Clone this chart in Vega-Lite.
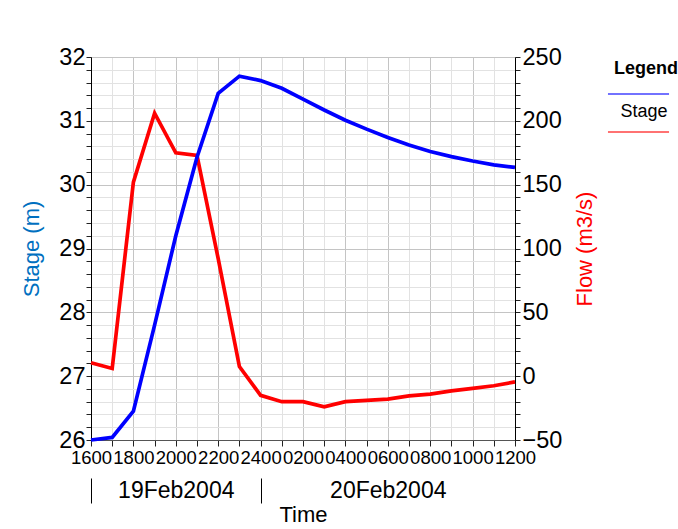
{
  "$schema": "https://vega.github.io/schema/vega-lite/v6.json",
  "width": 424,
  "height": 383,
  "autosize": {"type": "none"},
  "padding": {"left": 91, "top": 57, "right": 163, "bottom": 89},
  "background": "white",
  "config": {
    "font": "Liberation Sans",
    "view": {"stroke": "#555", "strokeWidth": 1},
    "axis": {
      "labelFont": "Liberation Sans",
      "titleFont": "Liberation Sans",
      "labelColor": "black",
      "titleColor": "black",
      "titleFontWeight": "normal",
      "tickColor": "#222",
      "domainColor": "#222"
    }
  },
  "data": {
    "values": [
      {"h": 0, "stage": 26.0, "flow": 10.5},
      {"h": 1, "stage": 26.04, "flow": 6},
      {"h": 2, "stage": 26.45, "flow": 152},
      {"h": 3, "stage": 27.8, "flow": 206},
      {"h": 4, "stage": 29.2, "flow": 175},
      {"h": 5, "stage": 30.43, "flow": 173},
      {"h": 6, "stage": 31.43, "flow": 92},
      {"h": 7, "stage": 31.7, "flow": 7.5},
      {"h": 8, "stage": 31.63, "flow": -15},
      {"h": 9, "stage": 31.51, "flow": -20},
      {"h": 10, "stage": 31.34, "flow": -20},
      {"h": 11, "stage": 31.17, "flow": -24},
      {"h": 12, "stage": 31.01, "flow": -20},
      {"h": 13, "stage": 30.87, "flow": -19},
      {"h": 14, "stage": 30.74, "flow": -18},
      {"h": 15, "stage": 30.62, "flow": -15.5},
      {"h": 16, "stage": 30.52, "flow": -14},
      {"h": 17, "stage": 30.44, "flow": -11.5},
      {"h": 18, "stage": 30.37, "flow": -9.5},
      {"h": 19, "stage": 30.31, "flow": -7.5},
      {"h": 20, "stage": 30.27, "flow": -4.5}
    ]
  },
  "layer": [
    {
      "mark": {"type": "line", "strokeWidth": 3.7},
      "encoding": {
        "x": {
          "field": "h",
          "type": "quantitative",
          "scale": {"domain": [0, 20], "nice": false, "zero": false},
          "axis": {
            "orient": "bottom",
            "offset": 38,
            "domain": false,
            "grid": false,
            "values": [0, 4, 8, 14],
            "tickSize": 25,
            "tickColor": "black",
            "tickOpacity": {"condition": {"test": "datum.value == 0 || datum.value == 8", "value": 1}, "value": 0},
            "labelExpr": "datum.value == 4 ? '19Feb2004' : datum.value == 14 ? '20Feb2004' : ''",
            "labelFontSize": 23,
            "labelBaseline": "middle",
            "labelPadding": -13,
            "labelOverlap": false,
            "labelFlush": false,
            "labelBound": false,
            "title": "Time",
            "titleFontSize": 22,
            "titlePadding": 1
          }
        },
        "y": {
          "field": "flow",
          "type": "quantitative",
          "scale": {"domain": [-50, 250], "nice": false, "zero": false},
          "axis": {
            "orient": "right",
            "grid": false,
            "values": [-50, -40, -30, -20, -10, 0, 10, 20, 30, 40, 50, 60, 70, 80, 90, 100, 110, 120, 130, 140, 150, 160, 170, 180, 190, 200, 210, 220, 230, 240, 250],
            "labelExpr": "datum.value % 50 == 0 ? datum.label : ''",
            "labelOverlap": false,
            "labelFontSize": 23.5,
            "labelPadding": 2,
            "tickSize": 5,
            "domainColor": "black",
            "title": "Flow (m3/s)",
            "titleColor": "#ff0000",
            "titleFontSize": 22,
            "titleAngle": 270,
            "titlePadding": 35
          }
        },
        "color": {
          "datum": "Flow",
          "type": "nominal",
          "scale": {"domain": ["Stage", "Flow"], "range": ["#0000ff", "#ff0000"]},
          "legend": {
            "title": "Legend",
            "orient": "none",
            "legendX": 523,
            "legendY": 3,
            "direction": "vertical",
            "symbolType": "M-1.65,-1H1.65",
            "symbolSize": 1369,
            "symbolStrokeWidth": 2,
            "symbolOpacity": 0.55,
            "labelFontSize": 18,
            "labelFont": "Liberation Sans",
            "labelColor": "black",
            "labelAlign": "center",
            "labelOffset": -14,
            "labelBaseline": "middle",
            "labelLimit": 0,
            "labelExpr": "datum.label == 'Flow' ? '' : datum.label",
            "titleFontSize": 18,
            "titleFont": "Liberation Sans",
            "titleFontWeight": "bold",
            "titleColor": "black",
            "titleAnchor": "start",
            "titlePadding": 15,
            "rowPadding": 7,
            "padding": 0,
            "encode": {
              "labels": {"update": {"dy": {"value": -1}}},
              "symbols": {"update": {"opacity": {"value": 0.55}}},
              "title": {"update": {"dx": {"value": -5}}}
            }
          }
        }
      }
    },
    {
      "mark": {"type": "line", "strokeWidth": 3.7},
      "encoding": {
        "x": {
          "field": "h",
          "type": "quantitative",
          "scale": {"domain": [0, 20], "nice": false, "zero": false},
          "axis": {
            "orient": "bottom",
            "values": [0, 1, 2, 3, 4, 5, 6, 7, 8, 9, 10, 11, 12, 13, 14, 15, 16, 17, 18, 19, 20],
            "grid": true,
            "gridColor": {"condition": {"test": "datum.value % 2 == 0", "value": "#c4c4c4"}, "value": "#e2e2e2"},
            "gridWidth": 1,
            "tickSize": 6,
            "domainColor": "#555",
            "labelExpr": "datum.value % 2 == 0 ? (datum.value == 8 ? '2400' : (((16 + datum.value) % 24) < 10 ? '0' : '') + ((16 + datum.value) % 24) + '00') : ''",
            "labelFontSize": 18.5,
            "labelPadding": 2,
            "labelOverlap": false,
            "labelFlush": false,
            "labelBound": false,
            "title": null
          }
        },
        "y": {
          "field": "stage",
          "type": "quantitative",
          "scale": {"domain": [26, 32], "nice": false, "zero": false},
          "axis": {
            "orient": "left",
            "values": [26, 26.2, 26.4, 26.6, 26.8, 27, 27.2, 27.4, 27.6, 27.8, 28, 28.2, 28.4, 28.6, 28.8, 29, 29.2, 29.4, 29.6, 29.8, 30, 30.2, 30.4, 30.6, 30.8, 31, 31.2, 31.4, 31.6, 31.8, 32],
            "grid": true,
            "gridColor": {"condition": {"test": "datum.value % 1 == 0", "value": "#c4c4c4"}, "value": "#e2e2e2"},
            "labelExpr": "datum.value % 1 == 0 ? format(datum.value, 'd') : ''",
            "labelOverlap": false,
            "labelFontSize": 23.5,
            "labelPadding": 1,
            "tickSize": 5,
            "domainColor": "black",
            "title": "Stage (m)",
            "titleColor": "#0070c0",
            "titleFontSize": 22,
            "titlePadding": 15
          }
        },
        "color": {"datum": "Stage", "type": "nominal"}
      }
    }
  ],
  "resolve": {"scale": {"y": "independent"}, "axis": {"x": "independent", "y": "independent"}}
}
